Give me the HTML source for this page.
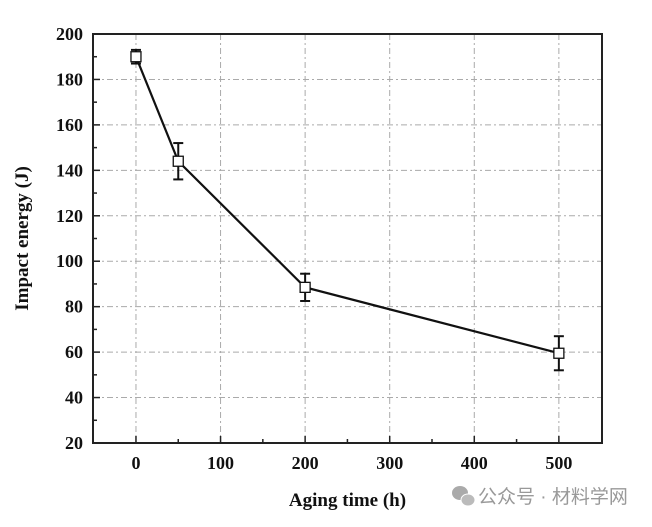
<!DOCTYPE html>
<html><head><meta charset="utf-8"><style>
body{margin:0;background:#fff;width:652px;height:522px;overflow:hidden}
svg text{font-family:"Liberation Serif",serif;font-weight:bold;fill:#111}
</style></head><body>
<svg width="652" height="522" id="c"></svg>
<script>
const xTicks=[0,100,200,300,400,500];
const yTicks=[20,40,60,80,100,120,140,160,180,200];
const times=[0,50,200,500];
const energy=[190,144,88.5,59.5];
const errors=[3,8,6,7.5];
const L=93,R=602,T=34,B=443,x0=-50.8,x1=551,y0=20,y1=200;
const sx=v=>L+(v-x0)/(x1-x0)*(R-L), sy=v=>B-(v-y0)/(y1-y0)*(B-T);
const s=document.getElementById('c'),NS='http://www.w3.org/2000/svg';
function mk(t,a,p){const e=document.createElementNS(NS,t);for(const k in a)e.setAttribute(k,a[k]);(p||s).appendChild(e);return e;}
const grid=mk('g',{});


xTicks.forEach(v=>{mk('line',{x1:sx(v),x2:sx(v),y1:T,y2:B,stroke:'#aaa','stroke-dasharray':'6,3,2,3'},grid);});
yTicks.forEach(v=>{if(v>20&&v<200)mk('line',{x1:L,x2:R,y1:sy(v),y2:sy(v),stroke:'#aaa','stroke-dasharray':'6,3,2,3'},grid);});
const ax=mk('g',{});


mk('rect',{x:L,y:T,width:R-L,height:B-T,fill:'none',stroke:'#222','stroke-width':2},ax);
xTicks.forEach(v=>{mk('line',{x1:sx(v),x2:sx(v),y1:B,y2:B-7,stroke:'#222','stroke-width':1.5},ax);
 const t=mk('text',{x:sx(v),y:B+26,'text-anchor':'middle','font-size':18},ax);t.textContent=v;
 
 });
[50,150,250,350,450].forEach(v=>mk('line',{x1:sx(v),x2:sx(v),y1:B,y2:B-4,stroke:'#222','stroke-width':1.5},ax));
yTicks.forEach(v=>{mk('line',{x1:L,x2:L+7,y1:sy(v),y2:sy(v),stroke:'#222','stroke-width':1.5},ax);
 const t=mk('text',{x:L-10,y:sy(v)+6,'text-anchor':'end','font-size':18},ax);t.textContent=v;
 
 });
for(let v=30;v<200;v+=20)mk('line',{x1:L,x2:L+4,y1:sy(v),y2:sy(v),stroke:'#222','stroke-width':1.5},ax);
const yt=mk('text',{x:0,y:0,transform:`translate(28,${(T+B)/2}) rotate(-90)`,'text-anchor':'middle','font-size':19});
yt.textContent='Impact energy (J)';


const xt=mk('text',{x:(L+R)/2,y:506,'text-anchor':'middle','font-size':19});
xt.textContent='Aging time (h)';


const ln=mk('polyline',{points:times.map((t,i)=>sx(t)+','+sy(energy[i])).join(' '),fill:'none',stroke:'#111','stroke-width':2.2});


times.forEach((t,i)=>{const x=sx(t),a=sy(energy[i]+errors[i]),b=sy(energy[i]-errors[i]);
 const g=mk('g',{});
 
 
 mk('line',{x1:x,x2:x,y1:a,y2:b,stroke:'#111','stroke-width':2},g);
 mk('line',{x1:x-5,x2:x+5,y1:a,y2:a,stroke:'#111','stroke-width':2},g);
 mk('line',{x1:x-5,x2:x+5,y1:b,y2:b,stroke:'#111','stroke-width':2},g);
 mk('rect',{x:x-5,y:sy(energy[i])-5,width:10,height:10,fill:'#fff',stroke:'#111','stroke-width':1.3},g);});
const w=mk('text',{x:478,y:503,'font-size':19,style:'font-family:"Liberation Sans","Noto Sans CJK SC",sans-serif;font-weight:normal;fill:#999'});
w.textContent='公众号 · 材料学网';


const ic=mk('g',{});


mk('ellipse',{cx:460,cy:493,rx:8,ry:7,fill:'#aaa'},ic);
mk('ellipse',{cx:468,cy:500,rx:7,ry:6,fill:'#bbb',stroke:'#fff','stroke-width':1},ic);
</script></body></html>
